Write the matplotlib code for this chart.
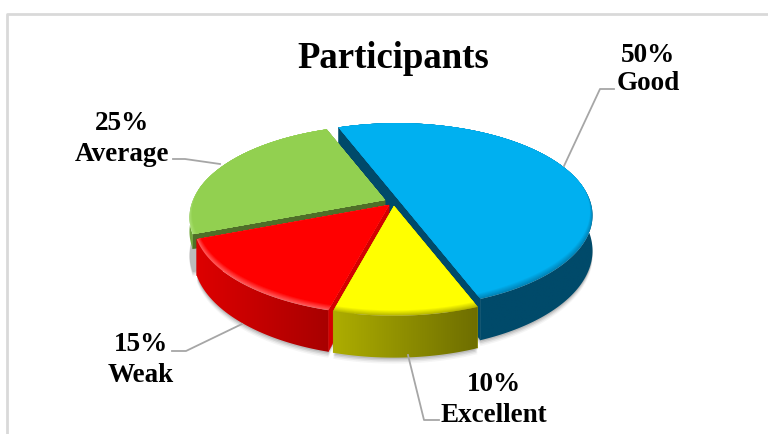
import numpy as np
import matplotlib
matplotlib.use('Agg')
import matplotlib.pyplot as plt
from matplotlib.colors import to_rgb
from matplotlib.patches import Polygon

title = 'Participants'
categories = ['Good', 'Excellent', 'Weak', 'Average']
shares = [50, 10, 15, 25]

face_colors = ['#00B0F0', '#FFFF00', '#FF0000', '#92D050']
rim_colors = ['#0084B8', '#B8B800', '#FF5A5A', '#A8E070']
wall_colors = ['#004A6A', '#A0A000', '#D40000', '#4F6F28']
side_start = ['#004A6A', '#6E6E00', '#A80000', '#6FA63A']
side_end = ['#004A6A', '#ADAD00', '#DD0000', '#6FA63A']

# apex of each slice once pulled out of the pie
apex = [(397, 199), (394, 207), (389, 206), (385, 201)]
# the green slice sits lower in the stack, only a sliver of its wall shows
wall_scale = [1, 1, 1, 0.4]
label_xy = [(648, 56, 83), (494, 385, 416), (141, 345, 376), (122, 123, 155)]
leaders = [[(564, 167), (600, 90), (614, 90)],
           [(408, 356), (424, 421), (439, 421)],
           [(242, 325), (186, 352), (172, 352)],
           [(220, 165), (185, 160), (173, 160)]]

RX, RY, TILT, DEPTH = 192, 89, 0.189, 34
START = -21


def project(ang, r=1.0):
    # ang runs clockwise from the back of the pie, in degrees
    t = np.radians(ang)
    x, y = r * np.sin(t), r * np.cos(t)
    w = 1 + TILT * y
    return RX * x / w, -RY * y / w, DEPTH / w


def mix(c1, c2, f):
    a, b = np.array(to_rgb(c1)), np.array(to_rgb(c2))
    return tuple(a + (b - a) * f)


fig = plt.figure(figsize=(7.68, 4.35), dpi=100)
ax = fig.add_axes([0, 0, 1, 1])

# chart frame, only the top and left edges show
ax.plot([7, 7, 768], [435, 15, 15], color='#D9D9D9', lw=2, solid_capstyle='butt')

edges = START + np.cumsum([0] + shares) * 3.6


def draw_slice(i):
    a0, a1 = edges[i], edges[i + 1]
    cx, cy = apex[i]
    ang = np.linspace(a0, a1, max(int(a1 - a0), 8) + 1)
    px, py, pd = project(ang)
    px, py = px + cx, py + cy

    # soft shadow under the outer wall
    for off, alpha in [(6, 0.05), (4.5, 0.08), (3, 0.12), (1.5, 0.15)]:
        pts = np.column_stack([px, py + pd + off])
        ax.add_patch(Polygon(np.vstack([[cx, cy + DEPTH], pts]), fc='#404040', ec='none',
                             alpha=alpha, zorder=1))

    z = 2 + [0, 3, 2, 1][i] * 2
    pd = pd * wall_scale[i]
    drop = DEPTH * wall_scale[i]

    # radial walls
    for k in (0, -1):
        wall = [(cx, cy), (px[k], py[k]), (px[k], py[k] + pd[k]), (cx, cy + drop)]
        ax.add_patch(Polygon(wall, fc=wall_colors[i], ec=wall_colors[i], lw=0.4, zorder=z))

    # outer wall, a horizontal gradient clipped to its outline
    outline = np.vstack([np.column_stack([px, py]), np.column_stack([px, py + pd])[::-1]])
    xa, xb = px[0], px[-1]
    grad = np.array([[mix(side_start[i], side_end[i], f) for f in np.linspace(0, 1, 64)]])
    lo, hi = min(xa, xb), max(xa, xb)
    if xa > xb:
        grad = grad[:, ::-1]
    # the blue wall bulges past its end points, so run the strip over the whole outline
    im = ax.imshow(grad, extent=(min(lo, px.min()), max(hi, px.max()), outline[:, 1].max(),
                                 outline[:, 1].min()),
                   aspect='auto', zorder=z, interpolation='bilinear')
    im.set_clip_path(Polygon(outline, transform=ax.transData))

    # top face, with a bevel that fades in along the front of the rim
    steps = 6
    for s in range(steps + 1):
        f = s / steps
        front = np.clip(-np.cos(np.radians(ang)) + 0.15, 0, 1)
        r = 1 - f * 0.04 * front
        qx, qy, _ = project(ang, r)
        c = mix(rim_colors[i], face_colors[i], f)
        pts = np.column_stack([qx + cx, qy + cy])
        ax.add_patch(Polygon(np.vstack([[cx, cy], pts]), fc=c, ec='none', zorder=z + 0.5))


for i in [0, 3, 2, 1]:
    draw_slice(i)

for pts in leaders:
    xs, ys = zip(*pts)
    ax.plot(xs, ys, color='#A6A6A6', lw=1.3, zorder=12)

serif = dict(family='Liberation Serif', fontweight='bold', color='black', ha='center', va='center')
ax.text(393, 58, title, fontsize=26.5, **serif)
for name, value, (tx, y1, y2) in zip(categories, shares, label_xy):
    ax.text(tx, y1, f'{value}%', fontsize=19.5, zorder=13, **serif)
    ax.text(tx, y2, name, fontsize=19.5, zorder=13, **serif)

ax.set_xlim(0, 768)
ax.set_ylim(435, 0)
ax.axis('off')

fig.savefig('out.png', dpi=100)
